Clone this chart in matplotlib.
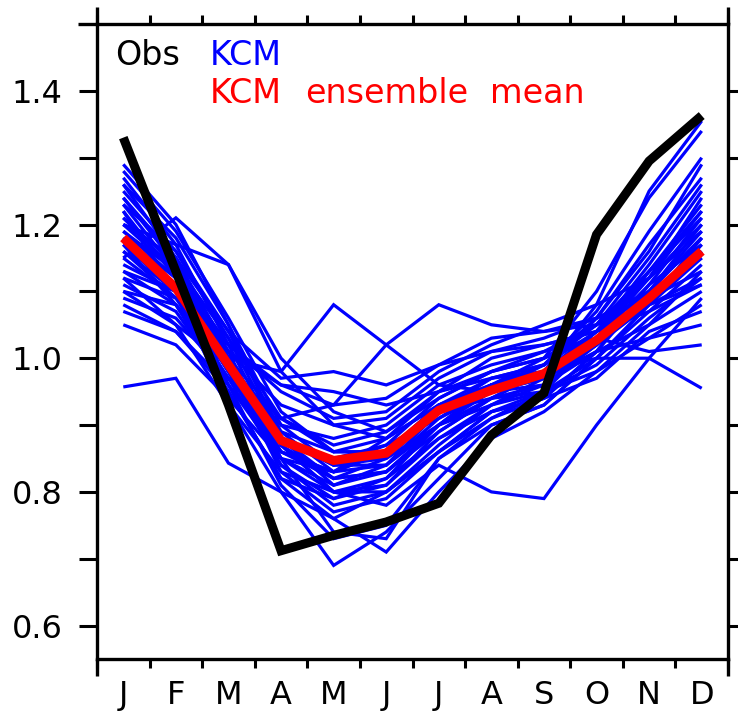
import numpy as np
import matplotlib
matplotlib.use("Agg")
import matplotlib.pyplot as plt
from matplotlib.lines import Line2D

# seasonal cycle: observations, KCM members and their ensemble mean
months = ['J', 'F', 'M', 'A', 'M', 'J', 'J', 'A', 'S', 'O', 'N', 'D']

obs = [1.33, 1.13, 0.93, 0.712, 0.735, 0.755, 0.783, 0.885, 0.948, 1.185, 1.295, 1.363]

ens_mean = [1.18, 1.105, 0.99, 0.877, 0.847, 0.858, 0.922, 0.952, 0.977, 1.027, 1.09, 1.16]

members = [
    [0.957, 0.97, 0.843, 0.80, 0.76, 0.80, 0.86, 0.92, 0.95, 0.99, 1.06, 1.12],
    [1.15, 1.21, 1.14, 0.98, 0.90, 0.88, 0.93, 0.97, 0.98, 1.04, 1.10, 1.18],
    [1.20, 1.17, 1.14, 1.00, 0.92, 0.89, 0.95, 0.98, 1.00, 1.05, 1.12, 1.22],
    [1.10, 1.08, 1.00, 0.98, 1.08, 1.02, 0.96, 0.95, 0.97, 1.01, 1.03, 1.05],
    [1.13, 1.10, 0.98, 0.91, 0.93, 1.02, 1.08, 1.05, 1.04, 1.06, 1.10, 1.15],
    [1.08, 1.04, 0.96, 0.86, 0.83, 0.88, 0.93, 0.96, 0.98, 1.00, 1.00, 0.955],
    [1.26, 1.18, 1.05, 0.90, 0.84, 0.85, 0.90, 0.94, 0.98, 1.08, 1.25, 1.355],
    [1.29, 1.20, 1.05, 0.88, 0.81, 0.83, 0.90, 0.96, 1.00, 1.10, 1.24, 1.34],
    [1.22, 1.10, 0.93, 0.80, 0.69, 0.74, 0.82, 0.90, 0.93, 1.00, 1.08, 1.17],
    [1.17, 1.08, 0.95, 0.82, 0.76, 0.71, 0.80, 0.88, 0.92, 0.98, 1.05, 1.13],
    [1.12, 1.05, 0.93, 0.83, 0.80, 0.78, 0.84, 0.80, 0.79, 0.90, 1.00, 1.09],
    [1.24, 1.15, 1.00, 0.88, 0.84, 0.84, 0.92, 0.96, 0.97, 1.03, 1.12, 1.24],
    [1.19, 1.12, 1.01, 0.96, 0.95, 0.93, 0.95, 0.97, 0.99, 1.04, 1.10, 1.20],
    [1.16, 1.09, 0.97, 0.84, 0.78, 0.80, 0.87, 0.93, 0.95, 1.00, 1.07, 1.14],
    [1.21, 1.14, 1.03, 0.91, 0.87, 0.89, 0.94, 0.98, 1.01, 1.05, 1.13, 1.22],
    [1.27, 1.17, 1.02, 0.87, 0.80, 0.81, 0.89, 0.94, 0.98, 1.06, 1.16, 1.29],
    [1.05, 1.02, 0.94, 0.85, 0.83, 0.86, 0.92, 0.94, 0.95, 0.98, 1.03, 1.08],
    [1.09, 1.06, 0.97, 0.89, 0.86, 0.88, 0.95, 1.00, 1.02, 1.04, 1.07, 1.11],
    [1.23, 1.13, 0.99, 0.83, 0.77, 0.79, 0.86, 0.91, 0.94, 1.01, 1.11, 1.21],
    [1.14, 1.10, 1.01, 0.93, 0.90, 0.91, 0.97, 1.01, 1.03, 1.06, 1.09, 1.13],
    [1.25, 1.16, 1.04, 0.97, 0.98, 0.96, 0.99, 1.01, 1.02, 1.04, 1.14, 1.25],
    [1.11, 1.07, 0.96, 0.85, 0.81, 0.84, 0.90, 0.93, 0.96, 1.01, 1.05, 1.10],
    [1.18, 1.11, 0.98, 0.86, 0.83, 0.86, 0.93, 0.95, 0.96, 1.02, 1.09, 1.16],
    [1.20, 1.13, 1.02, 0.95, 0.91, 0.92, 0.98, 1.02, 1.05, 1.08, 1.12, 1.19],
    [1.07, 1.04, 0.95, 0.82, 0.79, 0.82, 0.88, 0.92, 0.94, 0.97, 1.04, 1.07],
    [1.28, 1.19, 1.06, 0.92, 0.86, 0.86, 0.92, 0.96, 0.99, 1.07, 1.19, 1.30],
    [1.13, 1.08, 0.97, 0.88, 0.84, 0.87, 0.94, 0.98, 1.00, 1.03, 1.08, 1.12],
    [1.22, 1.12, 0.98, 0.84, 0.79, 0.81, 0.88, 0.93, 0.97, 1.02, 1.10, 1.19],
    [1.15, 1.09, 1.00, 0.88, 0.85, 0.87, 0.91, 0.96, 0.98, 1.02, 1.08, 1.15],
    [1.19, 1.13, 0.96, 0.81, 0.73, 0.75, 0.85, 0.90, 0.93, 1.00, 1.08, 1.18],
    [1.24, 1.14, 1.00, 0.86, 0.82, 0.85, 0.92, 0.97, 0.99, 1.05, 1.15, 1.26],
    [1.12, 1.09, 1.02, 0.96, 0.93, 0.94, 0.99, 1.03, 1.04, 1.05, 1.08, 1.11],
    [1.17, 1.10, 0.98, 0.85, 0.80, 0.82, 0.90, 0.96, 0.98, 1.03, 1.11, 1.17],
    [1.26, 1.15, 1.01, 0.85, 0.74, 0.73, 0.85, 0.91, 0.95, 1.03, 1.13, 1.23],
    [1.10, 1.05, 0.99, 0.90, 0.88, 0.90, 0.96, 0.99, 1.01, 1.03, 1.01, 1.02],
    [1.20, 1.15, 1.04, 0.89, 0.83, 0.84, 0.91, 0.95, 0.97, 1.04, 1.13, 1.21],
    [1.16, 1.10, 0.99, 0.87, 0.82, 0.83, 0.89, 0.94, 0.96, 1.02, 1.09, 1.16],
    [1.23, 1.16, 1.03, 0.88, 0.82, 0.83, 0.90, 0.95, 0.99, 1.06, 1.17, 1.27],
    [1.18, 1.12, 1.00, 0.87, 0.80, 0.80, 0.86, 0.92, 0.94, 1.01, 1.10, 1.18],
    [1.21, 1.13, 1.00, 0.91, 0.86, 0.86, 0.93, 0.96, 0.98, 1.04, 1.12, 1.20],
]

x = np.arange(len(months))

fig = plt.figure(figsize=(7.38, 7.13), dpi=100)
ax = fig.add_axes([97/738, 54/713, 631/738, 635/713])

for m in members:
    ax.plot(x, m, color='#0000ff', lw=2.3, solid_capstyle='butt', solid_joinstyle='miter')
ax.plot(x, ens_mean, color='#ff0000', lw=6.5, solid_capstyle='butt', solid_joinstyle='miter')
ax.plot(x, obs, color='black', lw=6.5, solid_capstyle='butt', solid_joinstyle='miter')

ax.set_xlim(-0.5, 11.5)
ax.set_ylim(0.55, 1.5)

# axis frame and tickmarks
for s in ax.spines.values():
    s.set_linewidth(2.4)

ax.set_xticks(x)
ax.set_xticklabels(months)
ax.set_xticks(np.arange(-0.5, 12, 1), minor=True)
ax.tick_params(axis='x', which='major', length=0, pad=15, labelsize=23)
ax.tick_params(axis='x', which='minor', direction='out', length=6.5, width=2.2,
               top=True, bottom=True)

ax.set_yticks([0.6, 0.8, 1.0, 1.2, 1.4])
ax.set_yticklabels(['0.6', '0.8', '1.0', '1.2', '1.4'])
ax.set_yticks([0.7, 0.9, 1.1, 1.3], minor=True)
ax.tick_params(axis='y', which='both', direction='out', length=13, width=2.2,
               left=True, right=True, labelsize=23, pad=12)

# frame corners stick out past the box
ext_y = 17 / 635
ext_x = 19 / 631
for xs, ys in [([0, 0], [1, 1 + ext_y]), ([0, 0], [0, -ext_y]),
               ([1, 1], [1, 1 + ext_y]), ([1, 1], [0, -ext_y]),
               ([-ext_x, 0], [1, 1])]:
    ax.add_line(Line2D(xs, ys, transform=ax.transAxes, color='black', lw=2.4,
                       clip_on=False, solid_capstyle='butt'))

# legend text, words spaced out wide
ax.text(0.0285, 0.935, 'Obs', color='black', fontsize=24, transform=ax.transAxes, va='baseline')
ax.text(0.179, 0.935, 'KCM', color='#0000ff', fontsize=24, transform=ax.transAxes, va='baseline')
for word, xpos in [('KCM', 0.179), ('ensemble', 0.33), ('mean', 0.623)]:
    ax.text(xpos, 0.876, word, color='#ff0000', fontsize=24,
            transform=ax.transAxes, va='baseline')

plt.savefig('out.png', dpi=100)
